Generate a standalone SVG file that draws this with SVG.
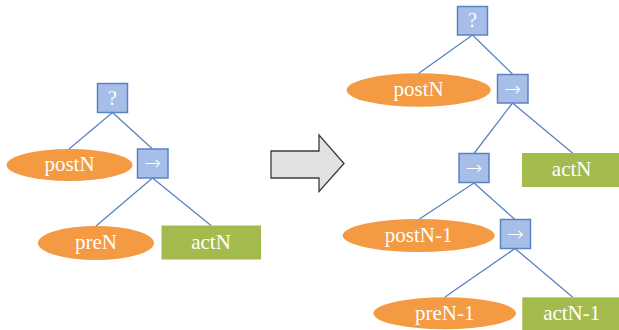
<svg xmlns="http://www.w3.org/2000/svg" width="619" height="330" viewBox="0 0 619 330">
  <style>
    .box { fill: #a7bee8; stroke: #5b82c4; stroke-width: 1.5; }
    .cond { fill: #f39a43; }
    .act { fill: #a3bb4c; }
    .edge { stroke: #5b82c4; stroke-width: 1.3; fill: none; }
    text { font-family: "Liberation Serif", "Times New Roman", serif; fill: #ffffff; text-anchor: middle; dominant-baseline: central; }
    .lbl { font-size: 21px; }
    .q { font-size: 20px; }
    .arr { font-family: "Noto Sans", "DejaVu Sans", sans-serif; font-size: 20px; font-weight: 300; }
  </style>
  <rect width="619" height="330" fill="#ffffff"/>

  <!-- connectors -->
  <g id="edges">
    <!-- left tree -->
    <line class="edge" x1="112.5" y1="112.5" x2="69" y2="149"/>
    <line class="edge" x1="112.5" y1="112.5" x2="152.5" y2="149"/>
    <line class="edge" x1="152.5" y1="178" x2="96" y2="226"/>
    <line class="edge" x1="152.5" y1="178" x2="211" y2="225.5"/>
    <!-- right tree -->
    <line class="edge" x1="472.5" y1="35" x2="418.5" y2="73.5"/>
    <line class="edge" x1="472.5" y1="35" x2="512.5" y2="74"/>
    <line class="edge" x1="512.5" y1="103" x2="474" y2="153.5"/>
    <line class="edge" x1="512.5" y1="103" x2="572.5" y2="153"/>
    <line class="edge" x1="474" y1="183" x2="419.5" y2="219"/>
    <line class="edge" x1="474" y1="183" x2="515" y2="219.5"/>
    <line class="edge" x1="515" y1="248.5" x2="445" y2="297"/>
    <line class="edge" x1="515" y1="248.5" x2="572.5" y2="297"/>
  </g>

  <!-- left tree nodes -->
  <g id="l-fallback">
    <rect class="box" x="97.5" y="83.5" width="30" height="29"/>
    <text class="q" x="112.5" y="97.5">?</text>
  </g>
  <g id="l-postN">
    <ellipse class="cond" cx="69.5" cy="165" rx="63" ry="16"/>
    <text class="lbl" x="69.5" y="164">postN</text>
  </g>
  <g id="l-seq">
    <rect class="box" x="137.5" y="149" width="30.5" height="29"/>
    <text class="arr" x="152.75" y="162.5">→</text>
  </g>
  <g id="l-preN">
    <ellipse class="cond" cx="96" cy="243" rx="58" ry="17"/>
    <text class="lbl" x="96" y="242">preN</text>
  </g>
  <g id="l-actN">
    <rect class="act" x="161.5" y="225.5" width="99.5" height="34"/>
    <text class="lbl" x="211" y="241.5">actN</text>
  </g>

  <!-- transformation arrow -->
  <g id="transform-arrow">
    <polygon points="271,151 319,151 319,135 344,163.5 319,191.5 319,178 271,178" fill="#e2e2e2" stroke="#3c3c3c" stroke-width="1.3" stroke-linejoin="miter"/>
  </g>

  <!-- right tree nodes -->
  <g id="r-fallback">
    <rect class="box" x="457.5" y="6.5" width="30" height="28.5"/>
    <text class="q" x="472.5" y="20">?</text>
  </g>
  <g id="r-postN">
    <ellipse class="cond" cx="418.7" cy="90" rx="72" ry="16.7"/>
    <text class="lbl" x="418.7" y="89">postN</text>
  </g>
  <g id="r-seq1">
    <rect class="box" x="497.5" y="74.5" width="30.5" height="28.5"/>
    <text class="arr" x="512.75" y="88">→</text>
  </g>
  <g id="r-seq2">
    <rect class="box" x="459" y="153.5" width="30" height="29"/>
    <text class="arr" x="474" y="167">→</text>
  </g>
  <g id="r-actN">
    <rect class="act" x="522" y="153" width="99" height="34"/>
    <text class="lbl" x="571.7" y="169">actN</text>
  </g>
  <g id="r-postN-1">
    <ellipse class="cond" cx="418.7" cy="235.5" rx="76" ry="16.5"/>
    <text class="lbl" x="418.7" y="234.5">postN-1</text>
  </g>
  <g id="r-seq3">
    <rect class="box" x="500.5" y="219.5" width="30" height="29"/>
    <text class="arr" x="515.5" y="233">→</text>
  </g>
  <g id="r-preN-1">
    <ellipse class="cond" cx="444.7" cy="313.3" rx="71.3" ry="16"/>
    <text class="lbl" x="444.7" y="312.5">preN-1</text>
  </g>
  <g id="r-actN-1">
    <rect class="act" x="522.3" y="297.3" width="99" height="34"/>
    <text class="lbl" x="571.7" y="312.5">actN-1</text>
  </g>
</svg>
